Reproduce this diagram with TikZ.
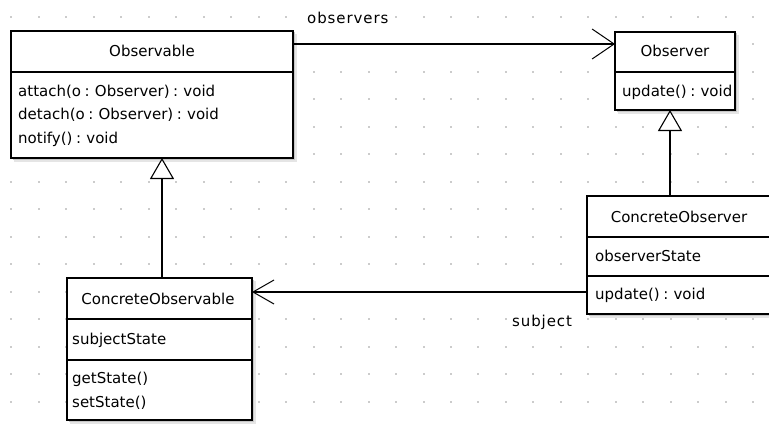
\documentclass[tikz,border=0pt]{standalone}
\usepackage{fontspec}
\setmainfont{DejaVu Sans}
\usetikzlibrary{arrows.meta}
\begin{document}
\begin{tikzpicture}[x=1pt,y=-1pt,
  font={\fontsize{15}{18}\selectfont\spaceskip=3.6pt\relax},
  classbox/.style={draw=black, line width=1.2pt, fill=white, inner sep=0pt, outer sep=0pt, anchor=north west},
  divider/.style={line width=1.2pt},
  lbl/.style={inner sep=0pt, anchor=west, text height=11pt, text depth=3pt},
  rolelbl/.style={lbl, font={\fontsize{15}{18}\selectfont\addfontfeature{LetterSpace=6}}},
  title/.style={inner sep=0pt, text height=11pt, text depth=3pt},
  link/.style={line width=1.1pt},
  navarrow/.style={link, -{Straight Barb[length=22pt,width=30pt,line width=1pt]}},
  navarrowsmall/.style={link, -{Straight Barb[length=21pt,width=24pt,line width=1pt]}},
  genarrow/.style={link, -{Triangle[open,fill=white,length=21pt,width=24pt,line width=1.1pt]}},
  griddot/.style={fill=black!20},
  shadowouter/.style={fill=black!10},
  shadowinner/.style={fill=black!22}
]
\useasboundingbox (0,0) rectangle (769,428);
\clip (0,0) rectangle (769,428);
\fill[white] (0,0) rectangle (769,428);

% background dot grid
\foreach \i in {0,...,27}
  \foreach \j in {0,...,15}
    \fill[griddot] ({10.3+27.48*\i},{16+27.48*\j}) rectangle ++(2,2);

% soft drop shadow behind a class box: \boxshadow{x1}{y1}{x2}{y2}
\newcommand{\boxshadow}[4]{%
  \fill[shadowouter] ({#1+3},{#2+3}) rectangle ({#3+3.5},{#4+3.5});
  \fill[shadowinner] ({#1+1.5},{#2+1.5}) rectangle ({#3+2},{#4+2});
}

% ---------- Observable ----------
\boxshadow{11}{31}{293}{158}
\node[classbox, minimum width=282pt, minimum height=127pt] (obs) at (11,31) {};
\draw[divider] (obs.west |- 0,72) -- (obs.east |- 0,72);
\node[title] (obsname) at (152,53) {Observable};
\node[lbl] (obsm1) at (18,92) {attach(o : Observer) : void};
\node[lbl] (obsm2) at (18,116) {detach(o : Observer) : void};
\node[lbl] (obsm3) at (18,139) {notify() : void};

% ---------- Observer ----------
\boxshadow{615}{32}{735}{110}
\node[classbox, minimum width=120pt, minimum height=78pt] (obsr) at (615,32) {};
\draw[divider] (obsr.west |- 0,72) -- (obsr.east |- 0,72);
\node[title] (obsrname) at (675,53) {Observer};
\node[lbl] (obsrm1) at (622,92) {update() : void};

% ---------- ConcreteObserver ----------
\boxshadow{587}{196}{771}{314}
\node[classbox, minimum width=184pt, minimum height=118pt] (cobsr) at (587,196) {};
\draw[divider] (cobsr.west |- 0,237) -- (cobsr.east |- 0,237);
\draw[divider] (cobsr.west |- 0,276) -- (cobsr.east |- 0,276);
\node[title] (cobsrname) at (679,218) {ConcreteObserver};
\node[lbl] (cobsra1) at (595,257) {observerState};
\node[lbl] (cobsrm1) at (595,295) {update() : void};

% ---------- ConcreteObservable ----------
\boxshadow{67}{278}{252}{420}
\node[classbox, minimum width=185pt, minimum height=142pt] (cobs) at (67,278) {};
\draw[divider] (cobs.west |- 0,319) -- (cobs.east |- 0,319);
\draw[divider] (cobs.west |- 0,360) -- (cobs.east |- 0,360);
\node[title] (cobsname) at (158,300) {ConcreteObservable};
\node[lbl] (cobsa1) at (72,340) {subjectState};
\node[lbl] (cobsm1) at (72,379) {getState()};
\node[lbl] (cobsm2) at (72,403) {setState()};

% ---------- relations ----------
\draw[navarrow] (obs.east |- 0,44) -- (obsr.west |- 0,44);
\node[rolelbl] (lobservers) at (307,20) {observers};

\draw[genarrow] (670,0 |- cobsr.north) -- (670,0 |- obsr.south);
\draw[genarrow] (162,0 |- cobs.north) -- (162,0 |- obs.south);

\draw[navarrowsmall] (cobsr.west |- 0,292) -- (cobs.east |- 0,292);
\node[rolelbl] (lsubject) at (512,322) {subject};
\end{tikzpicture}
\end{document}
